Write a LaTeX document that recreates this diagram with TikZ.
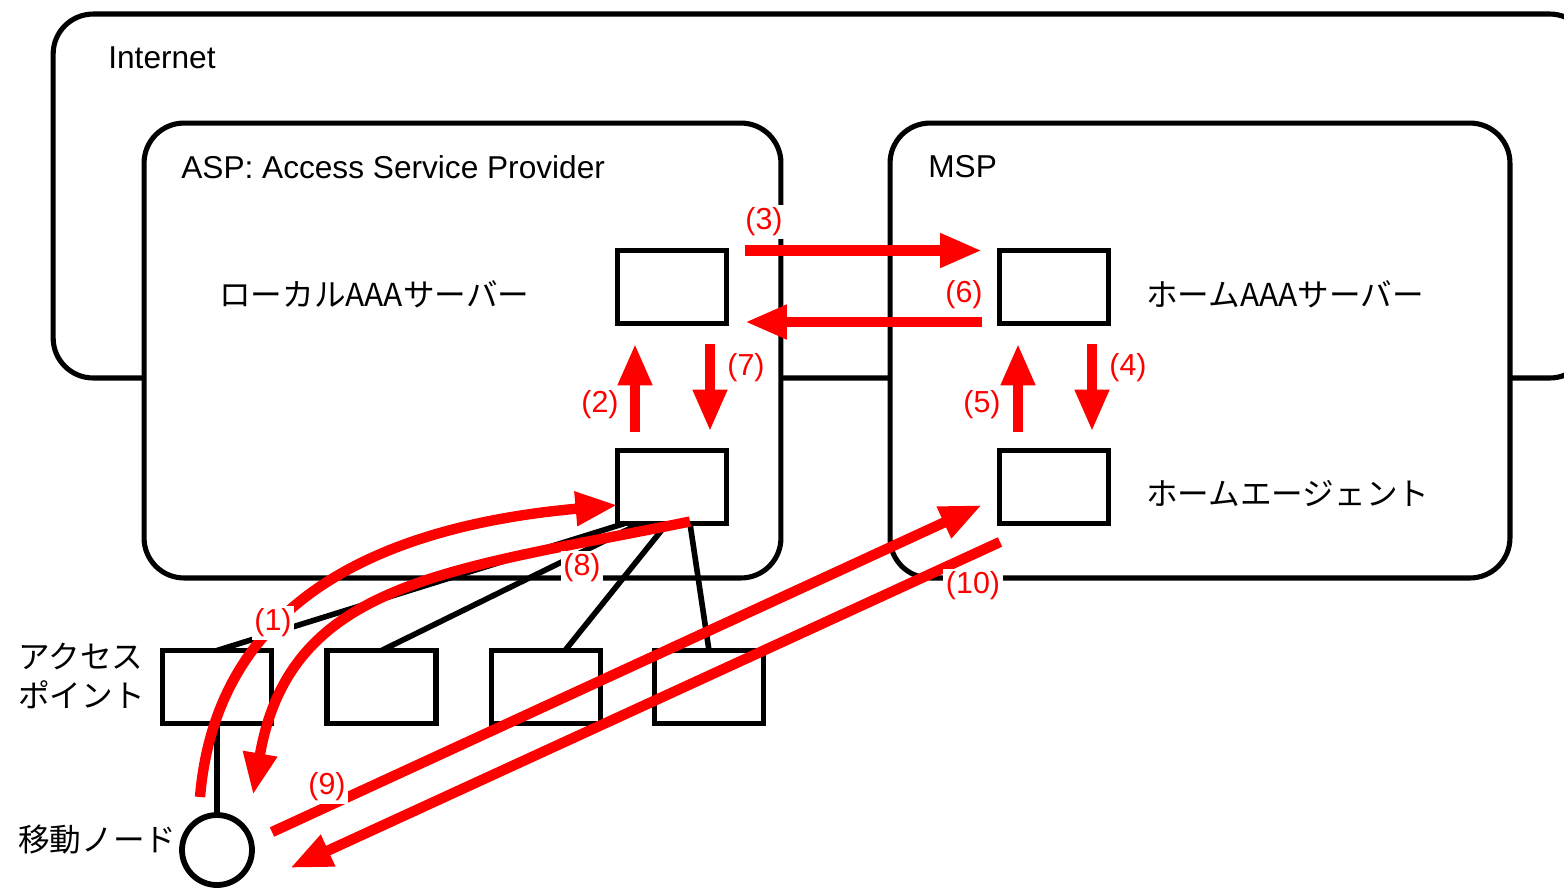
\documentclass[tikz,border=0pt]{standalone}
\usepackage{fontspec}
\setmainfont{Liberation Sans}
\newfontfamily\jpfont{Noto Sans CJK JP}
\usepackage{xcolor}
\usetikzlibrary{arrows.meta,calc}
\definecolor{flowRed}{HTML}{FF0000}

\begin{document}
\begin{tikzpicture}[x=0.02cm, y=-0.02cm, font=\fontsize{18}{22}\selectfont,
  region/.style={draw,line width=2.9pt,fill=white,rounded corners=0.8cm,inner sep=0pt,outer sep=0pt},
  unit/.style={draw,line width=3.3pt,fill=white,minimum width=2.18cm,minimum height=1.46cm,inner sep=0pt,outer sep=0pt},
  link/.style={line width=3.2pt},
  flow/.style={flowRed,line width=5.9pt,-{Triangle[length=0.84cm,width=0.64cm]}},
  num/.style={text=flowRed,fill=white,inner sep=1.5pt,font=\fontsize{17.3}{20}\selectfont},
  txt/.style={inner sep=0pt}]
\useasboundingbox (0,0) rectangle (1564,887);
\clip (0,0) rectangle (1564,887);
% --- domains ---
  \node[region,minimum width=30.74cm,minimum height=7.28cm] (inet) at (821.5,196) {};
  \node[region,minimum width=12.74cm,minimum height=9.1cm] (asp) at (462.5,350.5) {};
  \node[region,minimum width=12.4cm,minimum height=9.1cm] (msp) at (1200,350.5) {};
  \node[txt,anchor=west] (inetlbl) at (108,58) {Internet};
  \node[txt,anchor=west] (asplbl) at (181,167) {ASP: Access Service Provider};
  \node[txt,anchor=west] (msplbl) at (928,167) {MSP};
% --- servers, agents, access points ---
  \node[unit] (laaa) at (672,287) {};
  \node[unit] (lagent) at (672,487) {};
  \node[unit] (haaa) at (1054,287) {};
  \node[unit] (ha) at (1054,487) {};
  \node[unit] (ap1) at (217,687) {};
  \node[unit] (ap2) at (381.5,687) {};
  \node[unit] (ap3) at (546,687) {};
  \node[unit] (ap4) at (709,687) {};
  \node[circle,draw,line width=3.3pt,fill=white,minimum size=1.4cm,inner sep=0pt,outer sep=0pt] (mn) at (217,850) {};
  \node[txt,anchor=west] (laaalbl) at (219,294) {\jpfont ローカルAAAサーバー};
  \node[txt,anchor=west] (haaalbl) at (1146,294) {\jpfont ホームAAAサーバー};
  \node[txt,anchor=west] (halbl) at (1146,493) {\jpfont ホームエージェント};
  \node[txt,anchor=west,align=left] (aplbl) at (18,676) {\jpfont アクセス\\\jpfont ポイント};
  \node[txt,anchor=west] (mnlbl) at (18,840) {\jpfont 移動ノード};
% --- wiring ---
  \draw[link] (ap1.north) -- ([xshift=0.14cm]lagent.south west);
  \draw[link] (ap2.north) -- ([xshift=-0.64cm]lagent.south);
  \draw[link] ([xshift=0.38cm]ap3.north) -- ([xshift=-0.1cm]lagent.south);
  \draw[link] (ap4.north) -- ([xshift=0.36cm]lagent.south);
  \draw[link] (ap1.south) -- (mn.north);
% --- message flow ---
  \draw[flow] ([shift={(-17,-53)}]mn.center) .. controls +(15,-177) and +(-267,24) .. ([shift={(0,18)}]lagent.west);
  \draw[flow,shorten <=0.38cm,shorten >=0.4cm] ([xshift=-0.74cm]lagent.north) -- ([xshift=-0.74cm]laaa.south);
  \draw[flow,shorten <=0.37cm,shorten >=0.35cm] (laaa.north east) -- (haaa.north west);
  \draw[flow,shorten <=0.4cm,shorten >=0.38cm] ([xshift=0.76cm]haaa.south) -- ([xshift=0.76cm]ha.north);
  \draw[flow,shorten <=0.38cm,shorten >=0.4cm] ([xshift=-0.72cm]ha.north) -- ([xshift=-0.72cm]haaa.south);
  \draw[flow,shorten <=0.35cm,shorten >=0.37cm] ([yshift=0.03cm]haaa.south west) -- ([yshift=0.03cm]laaa.south east);
  \draw[flow,shorten <=0.4cm,shorten >=0.38cm] ([xshift=0.76cm]laaa.south) -- ([xshift=0.76cm]lagent.north);
  \draw[flow] ([shift={(18,-2)}]lagent.south) .. controls +(-240,49) and +(37,-215) .. ([shift={(36,-55)}]mn.center);
  \draw[flow] ([shift={(55,-18)}]mn.center) -- ([shift={(-17.5,-18.5)}]ha.south west);
  \draw[flow] ([shift={(0.5,18.5)}]ha.south west) -- ([shift={(73,18)}]mn.center);
% --- step numbers ---
  \node[num] (n1) at (273,623) {(1)};
  \node[num] (n2) at (600,405) {(2)};
  \node[num] (n3) at (764,222) {(3)};
  \node[num] (n4) at (1128,368) {(4)};
  \node[num] (n5) at (982,405) {(5)};
  \node[num] (n6) at (964,295) {(6)};
  \node[num] (n7) at (746,368) {(7)};
  \node[num] (n8) at (582,568) {(8)};
  \node[num] (n9) at (327,787) {(9)};
  \node[num] (n10) at (973,586) {(10)};
\end{tikzpicture}
\end{document}
